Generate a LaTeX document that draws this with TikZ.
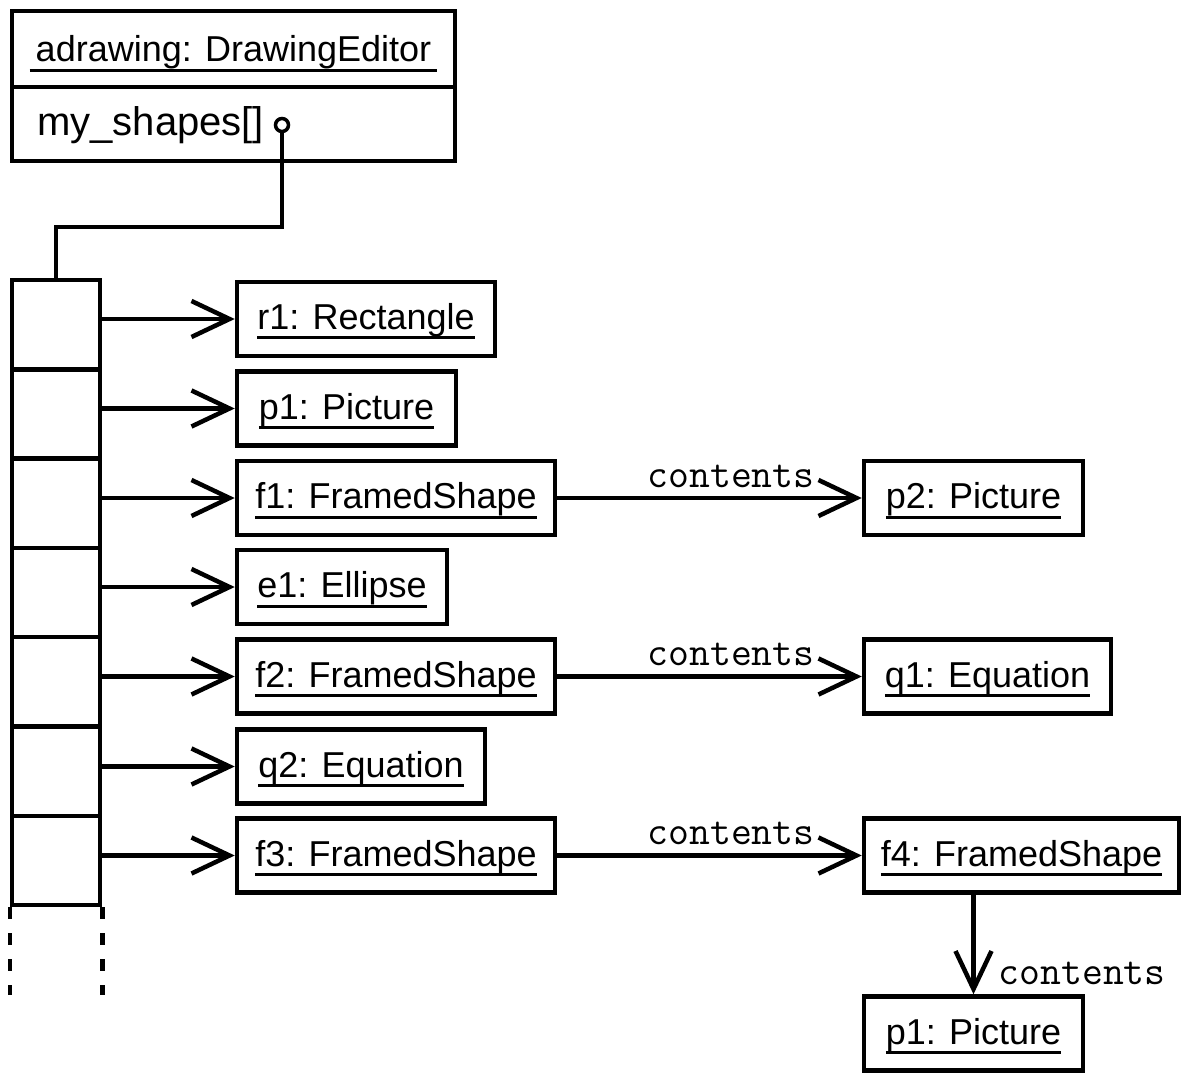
\documentclass[tikz,border=0pt]{standalone}
\usepackage{fontspec}
\setmainfont{Liberation Sans}
\usetikzlibrary{arrows.meta}

% underlined object name, with a heavier rule than \underline gives
\newcommand\ulx[1]{\setbox0=\hbox{#1}\rlap{\rule[-10pt]{\wd0}{3pt}}\box0}

\begin{document}
\begin{tikzpicture}[x=1pt, y=-1pt, line width=4.5pt,
  objbox/.style={draw, rectangle, inner sep=0pt, minimum height=74pt,
    text height=26pt, text depth=5pt, font=\fontsize{36}{40}\selectfont},
  cell/.style={draw, rectangle, inner sep=0pt, minimum width=88pt, minimum height=89.3pt},
  link/.style={-{Straight Barb[length=38pt,width=36pt]}},
  rolelabel/.style={font=\ttfamily\fontsize{40.5}{44}\selectfont, inner sep=0pt}]

\useasboundingbox (0,0) rectangle (1183,1075);

% the editor object
\node[draw, rectangle, inner sep=0pt, minimum width=443pt, minimum height=76pt,
  text height=26pt, text depth=0pt, font=\fontsize{36}{40}\selectfont]
  (ed) at (233.5,49) {\ulx{\kern6pt adrawing: DrawingEditor\kern6pt}};
\node[draw, rectangle, inner sep=0pt, minimum width=443pt, minimum height=74pt]
  (edattr) at (233.5,124) {};
\node[anchor=base west, inner sep=0pt, font=\fontsize{40}{44}\selectfont]
  (attr) at (35,136) {my\_shapes[]};
\node[draw, circle, inner sep=0pt, minimum size=13pt, line width=3.5pt] (dot) at (282,125) {};

% the array of shape references
\foreach \i in {1,...,7}
  \node[cell] (c\i) at (56,{280+89.3*(\i-0.5)}) {};
\draw[dash pattern=on 12pt off 14pt] (c7.south west) -- ++(0,88);
\draw[dash pattern=on 12pt off 14pt] (c7.south east) -- ++(0,88);

\draw (dot.south) -- ++(0,94) -| (c1.north);

% shapes held in the array
\node[objbox, minimum width=258pt] (r1) at (366,319)   {\ulx{r1: Rectangle}};
\node[objbox, minimum width=219pt] (p1) at (346.5,408.5) {\ulx{p1: Picture}};
\node[objbox, minimum width=318pt] (f1) at (396,498)   {\ulx{f1: FramedShape}};
\node[objbox, minimum width=210pt] (e1) at (342,587)   {\ulx{e1: Ellipse}};
\node[objbox, minimum width=318pt] (f2) at (396,676.5) {\ulx{f2: FramedShape}};
\node[objbox, minimum width=248pt] (q2) at (361,766.5) {\ulx{q2: Equation}};
\node[objbox, minimum width=318pt] (f3) at (396,855.5) {\ulx{f3: FramedShape}};

% contained shapes
\node[objbox, minimum width=219pt] (p2) at (973.5,498)  {\ulx{p2: Picture}};
\node[objbox, minimum width=247pt] (q1) at (987.5,676.5) {\ulx{q1: Equation}};
\node[objbox, minimum width=315pt] (f4) at (1021.5,855.5) {\ulx{f4: FramedShape}};
\node[objbox, minimum width=219pt] (p1b) at (973.5,1033.5) {\ulx{p1: Picture}};

% references from the array cells
\draw[link] (c1.east |- r1.west) -- (r1.west);
\draw[link] (c2.east |- p1.west) -- (p1.west);
\draw[link] (c3.east |- f1.west) -- (f1.west);
\draw[link] (c4.east |- e1.west) -- (e1.west);
\draw[link] (c5.east |- f2.west) -- (f2.west);
\draw[link] (c6.east |- q2.west) -- (q2.west);
\draw[link] (c7.east |- f3.west) -- (f3.west);

% contents links
\draw[link] (f1.east) -- (p2.west |- f1.east)
  node[rolelabel, pos=1, anchor=base east, xshift=-45pt, yshift=11pt] {contents};
\draw[link] (f2.east) -- (q1.west |- f2.east)
  node[rolelabel, pos=1, anchor=base east, xshift=-45pt, yshift=11pt] {contents};
\draw[link] (f3.east) -- (f4.west |- f3.east)
  node[rolelabel, pos=1, anchor=base east, xshift=-45pt, yshift=11pt] {contents};
\draw[link] (f4.south -| p1b.north) -- (p1b.north)
  node[rolelabel, pos=1, anchor=base west, xshift=23pt, yshift=10pt] {contents};

\end{tikzpicture}
\end{document}
